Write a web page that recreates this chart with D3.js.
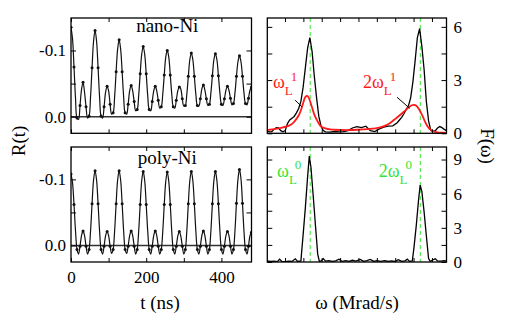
<!DOCTYPE html>
<html><head><meta charset="utf-8">
<script src="https://cdn.jsdelivr.net/npm/d3@7"></script>
<style>
html,body{margin:0;padding:0;background:#fff;}
svg{display:block;}
</style></head><body>
<svg id="c" width="508" height="331"></svg>
<script>
// ---------- DATA ----------
const tStep = 4; // ns between samples
const nanoR = [
-0.135,-0.118,-0.075,-0.028,0.002,0.004,-0.017,-0.041,-0.052,-0.037,-0.015,0.002,-0.001,-0.030,-0.074,-0.114,
-0.130,-0.114,-0.074,-0.030,-0.001,0.002,-0.015,-0.037,-0.046,-0.039,-0.019,-0.004,-0.006,-0.030,-0.068,-0.102,
-0.116,-0.102,-0.068,-0.030,-0.006,-0.004,-0.019,-0.039,-0.047,-0.039,-0.023,-0.009,-0.011,-0.032,-0.065,-0.094,
-0.106,-0.094,-0.065,-0.032,-0.011,-0.009,-0.023,-0.039,-0.046,-0.039,-0.025,-0.013,-0.015,-0.034,-0.063,-0.090,
-0.100,-0.090,-0.063,-0.034,-0.015,-0.013,-0.025,-0.039,-0.045,-0.042,-0.027,-0.016,-0.017,-0.034,-0.061,-0.086,
-0.096,-0.086,-0.061,-0.034,-0.017,-0.016,-0.027,-0.042,-0.048,-0.040,-0.027,-0.017,-0.019,-0.036,-0.062,-0.086,
-0.095,-0.086,-0.062,-0.036,-0.019,-0.017,-0.027,-0.040,-0.046,-0.040,-0.028,-0.018,-0.020,-0.036,-0.061,-0.083,
-0.092,-0.083,-0.061,-0.036,-0.020,-0.018,-0.028,-0.040,-0.045];
const polyR = [
-0.108,-0.095,-0.062,-0.022,0.006,0.013,0.001,-0.015,-0.022,-0.015,0.001,0.013,0.006,-0.022,-0.063,-0.099,
-0.113,-0.099,-0.063,-0.022,0.006,0.013,0.001,-0.015,-0.021,-0.015,0.001,0.012,0.006,-0.022,-0.063,-0.099,
-0.113,-0.099,-0.063,-0.022,0.006,0.012,0.001,-0.015,-0.022,-0.015,0.001,0.013,0.006,-0.022,-0.062,-0.098,
-0.112,-0.098,-0.062,-0.022,0.006,0.013,0.001,-0.015,-0.022,-0.015,0.001,0.013,0.006,-0.021,-0.062,-0.097,
-0.111,-0.097,-0.062,-0.021,0.006,0.013,0.001,-0.014,-0.021,-0.014,0.001,0.013,0.006,-0.022,-0.063,-0.098,
-0.112,-0.098,-0.063,-0.022,0.006,0.013,0.001,-0.015,-0.022,-0.015,0.001,0.013,0.006,-0.022,-0.063,-0.098,
-0.112,-0.098,-0.063,-0.022,0.006,0.013,0.001,-0.015,-0.021,-0.015,0.001,0.013,0.006,-0.022,-0.064,-0.100,
-0.115,-0.101,-0.064,-0.022,0.006,0.013,0.001,-0.015,-0.020];

const wNano = [60,62,64,66,68,70,72,74,76,78,80,82,84,86,88,90,92,94,96,98,100,102,104,106,108,110,112,116,120,124,128,132,136,140,144,148,152,156,160,164,168,172,176,178,180,182,184,186,188,190,192,194,196,198,200,202,204,206,208,210,212,214,216,218,220];
const nanoF = [0.12,0.08,0.10,0.22,0.32,0.30,0.15,0.08,0.15,0.55,0.75,0.85,0.95,1.15,1.40,1.8,2.6,3.7,4.8,5.4,4.6,3.2,2.0,0.95,0.4,0.15,0.08,0.07,0.10,0.08,0.10,0.15,0.30,0.38,0.32,0.40,0.15,0.10,0.25,0.35,0.40,0.42,0.60,0.75,0.90,1.10,1.35,1.55,2.0,2.9,4.1,5.4,5.9,4.9,3.6,1.8,0.7,0.15,0.10,0.15,0.30,0.38,0.32,0.22,0.15];
const wFit = [60,62,66,70,74,78,80,84,88,90,92,94,96,98,100,102,104,106,108,112,116,120,130,140,150,160,166,170,174,178,182,186,189,191,193,195,197,199,201,203,205,208,212,216,220];
const nanoFit = [0.18,0.2,0.24,0.28,0.33,0.4,0.45,0.65,1.0,1.3,1.7,2.05,2.1,1.85,1.45,1.05,0.78,0.55,0.38,0.28,0.22,0.2,0.18,0.2,0.24,0.32,0.45,0.6,0.8,1.0,1.22,1.45,1.58,1.6,1.55,1.4,1.18,0.92,0.63,0.4,0.24,0.12,0.05,0.03,0.02];
const wPoly = [60,63,66,69,71,73,76,79,82,85,87,90,92,94,96,97.5,99,101,103,105,106.5,108,110,112,115,118,121,124,127,130,133,136,139,143,146,149,152,155,158,161,165,168,171,174,177,180,183,185,187,189.5,191,193,195,196.5,198,200,202,204,205.5,208,210,212,215,218,220];
const polyF = [0.10,0.05,0.08,0.03,0.25,0.05,0.04,0.08,0.05,0.28,0.05,0.10,2.4,4.8,7.5,9.3,8.3,5.8,3.2,0.7,0.05,0.10,0.30,0.08,0.12,0.05,0.10,0.25,0.05,0.12,0.05,0.15,0.08,0.22,0.05,0.12,0.22,0.05,0.12,0.05,0.12,0.05,0.10,0.05,0.20,0.05,0.10,0.25,0.05,0.10,1.3,3.2,5.4,6.75,6.2,4.4,2.3,0.3,0.05,0.20,0.28,0.10,0.08,0.12,0.08];
const omegaL = [98.3, 196.6];

const tTicks = [0,100,200,300,400];
const tLabels = [0,200,400];
const rTicks = [-0.1,-0.05,0];
const rLabels = [-0.1,0];
const wTicks = [75.8,92.2,108.6,125,141.4,157.8,174.2,190.6,207];
const wLabels = [100,150,200];
const fTopTicks = [0,1.5,3,4.5,6];
const fTopLabels = [0,3,6];
const fBotTicks = [0,1.5,3,4.5,6,7.5,9];
const fBotLabels = [0,3,6,9];

// ---------- LAYOUT ----------
const svg = d3.select("#c");
const FONT = "'Liberation Serif','Times New Roman',serif";
const xT = d3.scaleLinear([0,480],[71,251.5]);
const yRt = d3.scaleLinear([0.025,-0.149],[133.3,18]);
const yRb = d3.scaleLinear([0.025,-0.149],[262,147]);
const xW = d3.scaleLinear([60,220],[267.3,446.5]);
const yFt = d3.scaleLinear([0,6.5],[133.3,18]);
const yFb = d3.scaleLinear([0,10.1],[262,147]);

function frameAxes(x, y, xt, xl, yt, yl, labelLeft, showX) {
  const [x0,x1] = x.range(), [y1,y0] = y.range();
  const fmtY = d => (yl.includes(d) ? (Number.isInteger(d) ? String(d) : d.toFixed(1)) : "");
  const fmtYl = d => (yl.includes(d) ? d.toFixed(1) : "");
  const fmtX = d => (showX && xl.includes(d) ? String(d) : "");
  const style = g => {
    g.select(".domain").remove();
    g.selectAll("line").attr("stroke","#000").attr("stroke-width",1);
    g.selectAll("text").attr("font-family",FONT).attr("font-size",17).attr("fill","#000");
    g.attr("font-family",null).attr("font-size",null);
  };
  // ticks on all sides, inward
  svg.append("g").attr("transform",`translate(0,${y1})`)
    .call(d3.axisBottom(x).tickValues(xt).tickSize(-4).tickPadding(9).tickFormat(fmtX)).call(style);
  svg.append("g").attr("transform",`translate(0,${y0})`)
    .call(d3.axisTop(x).tickValues(xt).tickSize(-4).tickFormat(()=> "")).call(style);
  if (labelLeft) {
    svg.append("g").attr("transform",`translate(${x0},0)`)
      .call(d3.axisLeft(y).tickValues(yt).tickSize(-5).tickPadding(5).tickFormat(fmtYl)).call(style);
    svg.append("g").attr("transform",`translate(${x1},0)`)
      .call(d3.axisRight(y).tickValues(yt).tickSize(-5).tickFormat(()=> "")).call(style);
  } else {
    svg.append("g").attr("transform",`translate(${x0},0)`)
      .call(d3.axisLeft(y).tickValues(yt).tickSize(-5).tickFormat(()=> "")).call(style);
    svg.append("g").attr("transform",`translate(${x1},0)`)
      .call(d3.axisRight(y).tickValues(yt).tickSize(-5).tickPadding(7).tickFormat(fmtY)).call(style);
  }
  svg.append("rect").attr("x",x0).attr("y",y0).attr("width",x1-x0).attr("height",y1-y0)
    .attr("fill","none").attr("stroke","#000").attr("stroke-width",1.3);
}

function timePanel(y, vals, id) {
  const [y1,y0] = y.range();
  const cp = svg.append("clipPath").attr("id",id).append("rect")
    .attr("x",xT.range()[0]).attr("y",y0).attr("width",xT.range()[1]-xT.range()[0]).attr("height",y1-y0);
  const g = svg.append("g").attr("clip-path",`url(#${id})`);
  g.append("line").attr("x1",xT.range()[0]).attr("x2",xT.range()[1]).attr("y1",y(0)).attr("y2",y(0))
    .attr("stroke","#333").attr("stroke-width",1.3);
  const pts = vals.map((v,i)=>[i*tStep, v]);
  g.append("path").attr("d", d3.line().x(d=>xT(d[0])).y(d=>y(d[1])).curve(d3.curveCatmullRom)(pts))
    .attr("fill","none").attr("stroke","#111").attr("stroke-width",1.2);
  g.selectAll("circle.p").data(pts.filter((d,i)=>i%2===0)).enter().append("circle")
    .attr("cx",d=>xT(d[0])).attr("cy",d=>y(d[1])).attr("r",1.5).attr("fill","#111");
}

function specPanel(y, id) {
  const [y1,y0] = y.range();
  svg.append("clipPath").attr("id",id).append("rect")
    .attr("x",xW.range()[0]).attr("y",y0).attr("width",xW.range()[1]-xW.range()[0]).attr("height",y1-y0);
  const g = svg.append("g").attr("clip-path",`url(#${id})`);
  g.selectAll("line.gl").data(omegaL).enter().append("line")
    .attr("x1",d=>xW(d)).attr("x2",d=>xW(d)).attr("y1",y0).attr("y2",y1)
    .attr("stroke","#33e533").attr("stroke-width",1).attr("stroke-dasharray","4,3");
  return g;
}

// left panels
timePanel(yRt, nanoR, "c1");
timePanel(yRb, polyR, "c2");
frameAxes(xT, yRt, tTicks, tLabels, rTicks, rLabels, true, false);
frameAxes(xT, yRb, tTicks, tLabels, rTicks, rLabels, true, true);

// right panels
const gT = specPanel(yFt, "c3");
const lineT = d3.line().x(d=>xW(d[0])).y(d=>yFt(d[1]));
gT.append("path").attr("d", lineT(wNano.map((w,i)=>[w,nanoF[i]])))
  .attr("fill","none").attr("stroke","#000").attr("stroke-width",1.3);
gT.append("path").attr("d", lineT.curve(d3.curveCatmullRom)(wFit.map((w,i)=>[w,nanoFit[i]])))
  .attr("fill","none").attr("stroke","#ff1a1a").attr("stroke-width",1.8);
const gB = specPanel(yFb, "c4");
gB.append("path").attr("d", d3.line().x(d=>xW(d[0])).y(d=>yFb(d[1]))(wPoly.map((w,i)=>[w,polyF[i]])))
  .attr("fill","none").attr("stroke","#000").attr("stroke-width",1.3);
frameAxes(xW, yFt, wTicks, wLabels, fTopTicks, fTopLabels, false, false);
frameAxes(xW, yFb, wTicks, wLabels, fBotTicks, fBotLabels, false, true);

// pointer lines (data coords)
const pointers = [[84.8,1.87,90.8,1.5],[175.9,2.03,187.1,1.41]];
svg.selectAll("line.ptr").data(pointers).enter().append("line")
  .attr("x1",d=>xW(d[0])).attr("y1",d=>yFt(d[1])).attr("x2",d=>xW(d[2])).attr("y2",d=>yFt(d[3]))
  .attr("stroke","#000").attr("stroke-width",1);

// labels
function omegaLabel(x, y, pre, sup, color) {
  const t = svg.append("text").attr("x",x).attr("y",y).attr("fill",color)
    .attr("font-family",FONT).attr("font-size",18);
  t.append("tspan").text(pre + "ω");
  t.append("tspan").attr("dy",7).attr("font-size",13).text("L");
  t.append("tspan").attr("dx",-2).attr("dy",-14.5).attr("font-size",13).text(sup);
}
omegaLabel(xW(65.1), yFt(2.55), "", "1", "#ff1a1a");
omegaLabel(xW(145.4), yFt(2.55), "2", "1", "#ff1a1a");
omegaLabel(xW(68.7), yFb(7.47), "", "0", "#33e533");
omegaLabel(xW(159.5), yFb(7.47), "2", "0", "#33e533");

const txt = (x,y,s,size,anchor="middle") => svg.append("text").attr("x",x).attr("y",y)
  .attr("font-family",FONT).attr("font-size",size).attr("text-anchor",anchor).attr("fill","#000").text(s);
txt(xT(256), yRt(-0.128), "nano-Ni", 19);
txt(xT(256), yRb(-0.123), "poly-Ni", 19);
txt(160, 309, "t (ns)", 19);
txt(357, 309, "ω (Mrad/s)", 19);
svg.append("text").attr("transform","translate(25,141) rotate(-90)").attr("text-anchor","middle")
  .attr("font-family",FONT).attr("font-size",19).text("R(t)");
svg.append("text").attr("transform","translate(481,146) rotate(90)").attr("text-anchor","middle")
  .attr("font-family",FONT).attr("font-size",19).text("F(ω)");
</script>
</body></html>
